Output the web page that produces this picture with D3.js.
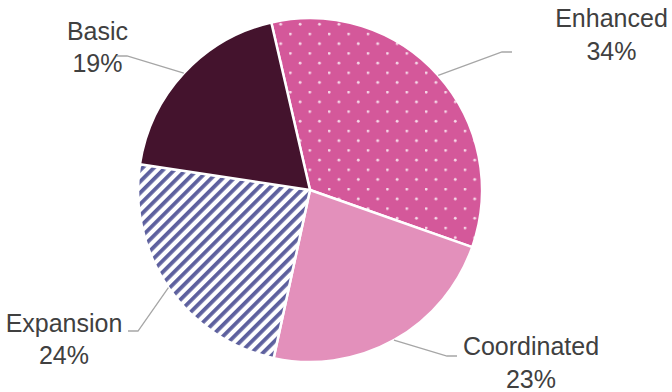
<!DOCTYPE html>
<html>
<head>
<meta charset="utf-8">
<script src="https://cdn.jsdelivr.net/npm/d3@7"></script>
<style>
  html, body { margin: 0; padding: 0; background: #fff; }
  svg { display: block; }
  text { font-family: "Liberation Sans", Arial, sans-serif; fill: #404040; }
</style>
</head>
<body>
<svg id="chart" width="672" height="392"></svg>
<script>
// Share of programmes by tier (percent), clockwise from the top
const categories = ["Enhanced", "Coordinated", "Expansion", "Basic"];
const shares = [34, 23, 24, 19];
const valueLabels = ["34%", "23%", "24%", "19%"];

// Layout: label anchors and leader-line elbows
const labelLayout = {
  Enhanced:    { x: 611.5, y: 27,    elbow: [502, 52],  end: [512, 52] },
  Coordinated: { x: 531,   y: 355,   elbow: [447, 356], end: [457, 356] },
  Expansion:   { x: 64,    y: 331.5, elbow: [138, 331], end: [128, 331] },
  Basic:       { x: 97.5,  y: 39.5,  elbow: [127, 56],  end: [117, 56] }
};

const W = 672, H = 392;
const cx = 310, cy = 190, radius = 172;
const startAngle = -13 * Math.PI / 180;

const svg = d3.select("#chart");
const defs = svg.append("defs");

// Dotted fill for Enhanced
const dots = defs.append("pattern")
  .attr("id", "dots").attr("patternUnits", "userSpaceOnUse")
  .attr("width", 19.4).attr("height", 19.4)
  .attr("x", cx - 1).attr("y", cy + 2);
dots.append("rect").attr("width", 19.4).attr("height", 19.4).attr("fill", "#d4589a");
dots.append("circle").attr("cx", 1.2).attr("cy", 1.2).attr("r", 1.4).attr("fill", "#f6d9e8");
dots.append("circle").attr("cx", 10.9).attr("cy", 10.9).attr("r", 1.4).attr("fill", "#f6d9e8");

// Diagonal stripes for Expansion
const stripes = defs.append("pattern")
  .attr("id", "stripes").attr("patternUnits", "userSpaceOnUse")
  .attr("width", 8).attr("height", 8)
  .attr("patternTransform", "rotate(45)");
stripes.append("rect").attr("width", 8).attr("height", 8).attr("fill", "#ffffff");
stripes.append("rect").attr("x", 0).attr("width", 3.8).attr("height", 8).attr("fill", "#5d609e");

const fills = {
  Enhanced: "url(#dots)",
  Coordinated: "#e390bb",
  Expansion: "url(#stripes)",
  Basic: "#44132d"
};

const data = categories.map((c, i) => ({ name: c, value: shares[i], label: valueLabels[i] }));

const pie = d3.pie().sort(null).value(d => d.value)
  .startAngle(startAngle).endAngle(startAngle + 2 * Math.PI);
const arcs = pie(data);
const arc = d3.arc().innerRadius(0).outerRadius(radius);

const g = svg.append("g").attr("transform", `translate(${cx},${cy})`);

g.selectAll("path.slice")
  .data(arcs)
  .join("path")
  .attr("class", "slice")
  .attr("d", arc)
  .attr("fill", d => fills[d.data.name])
  .attr("stroke", "#ffffff")
  .attr("stroke-width", 2.5)
  .attr("stroke-linejoin", "round");

// Leader lines from the rim at each slice's mid-angle
const leaders = svg.append("g");
arcs.forEach(a => {
  const mid = (a.startAngle + a.endAngle) / 2;
  const sx = cx + radius * Math.sin(mid);
  const sy = cy - radius * Math.cos(mid);
  const L = labelLayout[a.data.name];
  leaders.append("polyline")
    .attr("points", [[sx, sy], L.elbow, L.end].map(p => p.join(",")).join(" "))
    .attr("fill", "none")
    .attr("stroke", "#a6a6a6")
    .attr("stroke-width", 1.3);
});

// Category and percentage labels
const labels = svg.append("g");
arcs.forEach(a => {
  const L = labelLayout[a.data.name];
  const t = labels.append("text")
    .attr("text-anchor", "middle")
    .attr("font-size", 25);
  t.append("tspan").attr("x", L.x).attr("y", L.y).text(a.data.name);
  t.append("tspan").attr("x", L.x).attr("y", L.y + 32.5).text(a.data.label);
});
</script>
</body>
</html>
